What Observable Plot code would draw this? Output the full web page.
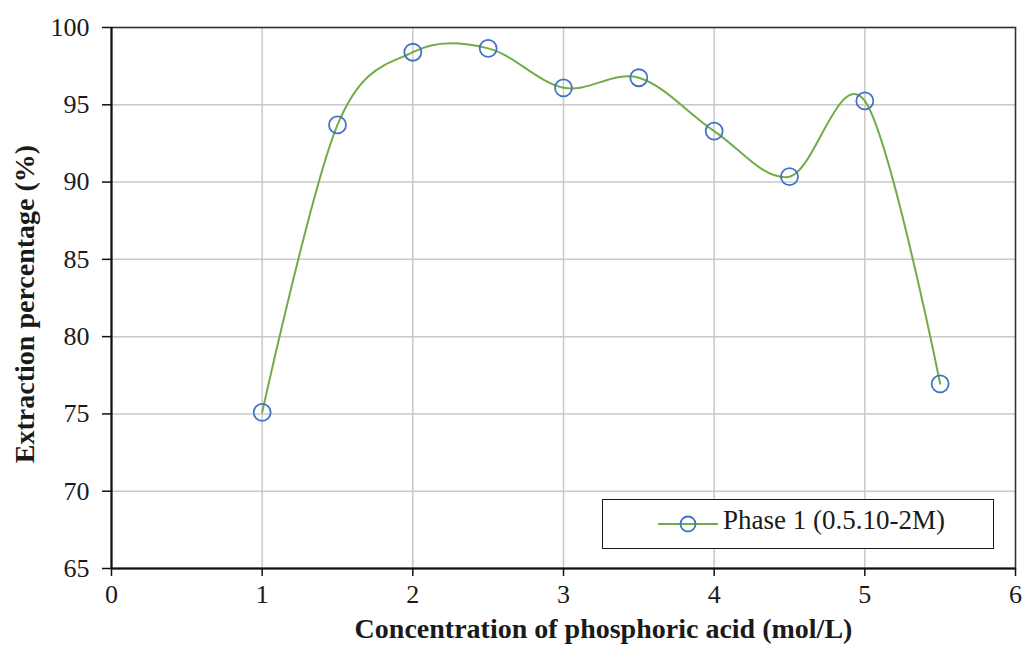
<!DOCTYPE html>
<html>
<head>
<meta charset="utf-8">
<script src="https://cdn.jsdelivr.net/npm/d3@7"></script>
<script src="https://cdn.jsdelivr.net/npm/@observablehq/plot@0.6"></script>
<style>
  html, body { margin: 0; padding: 0; background: #fff; }
  #wrap { position: relative; width: 1024px; height: 651px; }
  #legend {
    position: absolute; left: 602px; top: 499px; width: 390px; height: 48px;
    border: 1.5px solid #1a1a1a; background: #fff; box-sizing: content-box;
    font-family: "Liberation Serif", "DejaVu Serif", serif; font-size: 27px; color: #1a1a1a;
  }
  #legend svg { position: absolute; left: 54px; top: 12px; }
  #legend span { position: absolute; left: 120px; top: 5px; white-space: nowrap; }
</style>
</head>
<body>
<div id="wrap"></div>
<script>
// Data
const concentration = [1, 1.5, 2, 2.5, 3, 3.5, 4, 4.5, 5, 5.5];
const extraction = [75.1, 93.7, 98.4, 98.65, 96.1, 96.75, 93.3, 90.35, 95.25, 76.95];
const xTicks = [0, 1, 2, 3, 4, 5, 6];
const yTicks = [65, 70, 75, 80, 85, 90, 95, 100];
const seriesName = "Phase 1 (0.5.10-2M)";
const xTitle = "Concentration of phosphoric acid (mol/L)";
const yTitle = "Extraction percentage (%)";

const data = concentration.map((c, i) => ({c, e: extraction[i]}));
const serif = "Liberation Serif, DejaVu Serif, serif";

const chart = Plot.plot({
  width: 1024,
  height: 651,
  marginTop: 27,
  marginBottom: 83,
  marginLeft: 111,
  marginRight: 9,
  style: {fontFamily: serif, fontSize: "26px", color: "#1a1a1a", background: "#fff", overflow: "visible"},
  x: {domain: [0, 6]},
  y: {domain: [65, 100]},
  marks: [
    Plot.gridX(xTicks, {stroke: "#c8c8c8", strokeOpacity: 1, strokeWidth: 1.5}),
    Plot.gridY(yTicks, {stroke: "#c8c8c8", strokeOpacity: 1, strokeWidth: 1.5}),
    Plot.frame({stroke: "#333", strokeWidth: 1.5}),
    Plot.ruleX([0], {stroke: "#111", strokeWidth: 2}),
    Plot.ruleY([65], {stroke: "#111", strokeWidth: 2}),
    Plot.axisX(xTicks, {tickSize: 8, tickPadding: 8, label: null, tickFormat: d => String(d), stroke: "#111", strokeWidth: 1.5, fontSize: 26, fontFamily: serif}),
    Plot.axisY(yTicks, {tickSize: 9, tickPadding: 13, label: null, tickFormat: d => String(d), stroke: "#111", strokeWidth: 1.5, fontSize: 26, fontFamily: serif}),
    Plot.line(data, {x: "c", y: "e", curve: "cardinal", stroke: "#70AD47", strokeWidth: 2}),
    Plot.dot(data, {x: "c", y: "e", r: 8.5, stroke: "#4472C4", strokeWidth: 1.8, fill: "none"}),
    Plot.text([xTitle], {frameAnchor: "bottom", dy: 69, dx: 40, fontWeight: "bold", fontSize: 28, fontFamily: serif, fill: "#1a1a1a"}),
    Plot.text([yTitle], {frameAnchor: "left", textAnchor: "middle", lineAnchor: "middle", rotate: -90, dx: -86, dy: 6, fontWeight: "bold", fontSize: 28, fontFamily: serif, fill: "#1a1a1a"})
  ]
});

const wrap = document.getElementById("wrap");
wrap.appendChild(chart);

const legend = document.createElement("div");
legend.id = "legend";
legend.innerHTML = `<svg width="62" height="24"><line x1="1" y1="12" x2="61" y2="12" stroke="#70AD47" stroke-width="2"/><circle cx="31" cy="12" r="7.5" fill="none" stroke="#4472C4" stroke-width="1.8"/></svg><span>${seriesName}</span>`;
wrap.appendChild(legend);
</script>
</body>
</html>
